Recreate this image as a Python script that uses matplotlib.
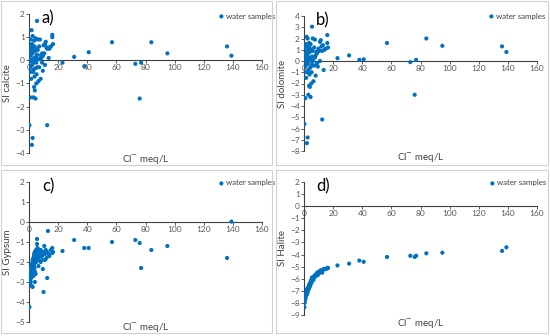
import matplotlib
matplotlib.use("Agg")
import matplotlib.pyplot as plt
from matplotlib.patches import Rectangle

# ── Data: Cl- (meq/L) and saturation indices per sample ─────
cl = [0.3, 0.5, 0.8, 1.0, 1.2, 1.5, 1.5, 1.8, 2.0, 2.0, 2.2, 2.5, 2.5, 2.5, 2.8,
      3.0, 3.0, 3.2, 3.5, 3.5, 3.5, 3.8, 4.0, 4.0, 4.2, 4.5, 4.5, 4.8, 5.0, 5.0,
      5.2, 5.5, 5.5, 5.8, 6.0, 6.2, 6.5, 7.0, 7.0, 7.5, 8.0, 8.0, 8.5, 9.0, 9.0,
      9.5, 9.5, 10.0, 10.5, 11.0, 11.0, 11.5, 12.0, 12.5, 12.5, 13.0, 13.5, 14.0,
      15.0, 16.0, 16.0, 16.5,
      0.5, 0.8, 1.0, 1.2, 1.8, 2.0, 2.8, 3.0, 3.8, 4.2, 5.0, 6.0, 7.5,
      23, 31, 38, 41, 57, 73, 76, 77, 84, 95, 136, 139]

si_calcite = [-2.8, 0.6, -0.3, -1.6, 0.2, 0.0, -0.8, 1.3, -3.65, 0.5, -0.2, -3.35, 1.05, 0.3, -0.5,
              -1.6, 0.6, -0.1, -1.15, 0.85, 0.1, -0.7, -1.3, 0.4, -0.35, -1.65, 0.95, 0.15, -1.0, 0.5,
              -0.6, 1.7, 0.25, -0.3, 0.9, 0.05, -0.9, 0.6, -0.3, 0.9, -0.8, 0.2, 0.1, -0.1, 0.3,
              -0.45, 0.2, 0.65, 0.3, 0.7, -0.2, 0.8, 0.55, -2.8, 0.5, 0.55, 0.1, 0.5,
              0.6, 1.1, 1.0, 0.7,
              0.05, 0.35, -0.5, 0.9, -0.05, 0.7, 0.4, -0.4, 0.6, 0.0, -0.1, 0.45, 0.05,
              -0.1, 0.15, -0.25, 0.35, 0.78, -0.15, -1.65, -0.1, 0.78, 0.3, 0.6, 0.2]

si_dolomite = [-5.6, 1.2, -0.5, -3.3, 0.4, 0.1, -1.5, 2.15, -7.3, 0.9, -0.3, -6.8, 2.0, 0.6, -1.0,
               -3.0, 1.1, 0.0, -2.2, 1.6, 0.3, -1.2, -2.3, 0.8, -0.6, -3.2, 1.5, 0.2, -2.0, 1.0,
               -1.0, 3.05, 0.4, -0.4, 2.0, 0.0, -1.8, 1.2, -0.4, 1.9, -1.3, 0.5, 0.8, -0.2, 0.7,
               -0.5, 0.9, 1.1, 0.9, 1.7, 0.0, 1.85, 1.3, -5.2, 0.9, 1.4, -0.8, 1.0,
               1.1, 2.3, 1.6, 1.2,
               0.1, 0.6, -1.0, 1.5, -0.2, 1.3, 0.8, -0.8, 1.2, 0.1, -0.3, 0.9, 0.3,
               0.25, 0.5, 0.1, 0.15, 1.6, -0.1, -3.0, 0.1, 2.0, 1.35, 1.3, 0.8]

si_gypsum = [-4.25, -3.1, -2.9, -3.0, -2.7, -2.5, -2.8, -2.2, -3.2, -2.1, -2.4, -3.25, -2.0, -1.9, -2.6,
             -2.7, -1.8, -2.2, -2.1, -1.7, -1.6, -2.3, -3.0, -1.5, -2.5, -2.6, -1.9, -1.4, -2.0, -1.6,
             -1.7, -0.85, -1.1, -1.3, -1.35, -1.8, -2.2, -1.6, -1.9, -1.5, -1.4, -2.0, -1.6, -1.7, -1.9,
             -2.35, -1.5, -3.5, -1.2, -1.9, -1.6, -1.4, -1.8, -2.8, -1.5, -0.45, -1.6, -1.7,
             -1.4, -1.3, -1.55, -1.5,
             -2.6, -2.3, -3.0, -2.4, -2.5, -2.2, -2.0, -2.4, -1.9, -1.8, -1.7, -1.5, -1.7,
             -1.45, -0.9, -1.3, -1.3, -1.0, -0.9, -1.05, -2.3, -1.4, -1.2, -1.8, 0.02]

si_halite = [-8.35, -8.0, -7.7, -7.5, -7.4, -7.2, -7.3, -7.0, -7.3, -6.9, -7.0, -7.1, -6.8, -6.8, -6.9,
             -6.9, -6.7, -6.8, -6.6, -6.5, -6.6, -6.7, -6.6, -6.4, -6.5, -6.5, -6.3, -6.2, -6.3, -6.2,
             -6.3, -5.9, -6.0, -6.1, -5.9, -6.0, -6.1, -5.8, -5.9, -5.7, -5.8, -5.7, -5.6, -5.6, -5.5,
             -5.7, -5.5, -5.5, -5.4, -5.4, -5.5, -5.3, -5.4, -5.5, -5.3, -5.3, -5.2, -5.2,
             -5.2, -5.1, -5.15, -5.1,
             -7.8, -7.6, -7.6, -7.3, -7.1, -7.0, -6.9, -6.8, -6.6, -6.4, -6.1, -5.9, -5.8,
             -4.9, -4.75, -4.5, -4.6, -4.2, -4.1, -4.2, -4.1, -3.9, -3.85, -3.7, -3.4]

x_ticks = [0, 20, 40, 60, 80, 100, 120, 140, 160]

BLUE = "#0070C0"
AXIS = "#595959"
W, H = 550, 336

# (series, ylabel, panel tag, ylim, plot box px [x0, x1, ytop, ybot], frame px, xlabel y px, legend px)
panels = [
    (si_calcite,  "SI calcite",  "a)", (-4, 2), (29, 262, 14, 153),  (1, 1, 272, 165),   160, (219, 16)),
    (si_dolomite, "SI dolomite", "b)", (-8, 4), (304, 537, 16, 151), (276, 1, 548, 165), 158, (489, 16)),
    (si_gypsum,   "SI Gypsum",   "c)", (-5, 2), (29, 262, 182, 322), (1, 170, 272, 333), 328, (219, 183)),
    (si_halite,   "SI Halite",   "d)", (-9, 2), (304, 537, 182, 315), (276, 170, 548, 333), 323, (490, 183)),
]

plt.rcParams["font.family"] = ["Lato", "DejaVu Sans"]

fig = plt.figure(figsize=(W / 100, H / 100), dpi=100, facecolor="white")

for si, ylab, tag, ylim, box, frame, xlab_y, leg in panels:
    # light grey frame round each panel
    fx0, fy0, fx1, fy1 = frame
    fig.patches.append(Rectangle((fx0 / W, 1 - fy1 / H), (fx1 - fx0) / W, (fy1 - fy0) / H,
                                 transform=fig.transFigure, fill=False,
                                 edgecolor="#d0d0d0", lw=0.8))

    x0, x1, yt, yb = box
    ax = fig.add_axes([x0 / W, 1 - yb / H, (x1 - x0) / W, (yb - yt) / H])
    ax.set_facecolor("none")
    ax.scatter(cl, si, s=9, color=BLUE, edgecolors="none", label="water samples", zorder=3)

    ax.set_xlim(0, 160)
    ax.set_ylim(*ylim)
    ax.set_xticks(x_ticks)
    ax.set_yticks(range(ylim[0], ylim[1] + 1))

    for side in ("top", "right"):
        ax.spines[side].set_visible(False)
    ax.spines["bottom"].set_position(("data", 0))
    for side in ("left", "bottom"):
        ax.spines[side].set_color("#404040")
        ax.spines[side].set_linewidth(0.8)
    ax.tick_params(axis="both", labelsize=6, length=2, width=0.6, pad=1,
                   colors="#404040", labelcolor=AXIS)

    ax.set_ylabel(ylab, fontsize=7, color="#404040", labelpad=2)
    fig.text((x0 + x1) / 2 / W, 1 - xlab_y / H, "Cl$^{-}$ meq/L", fontsize=7,
             color="#404040", ha="center", va="center")
    fig.text((x0 + 19) / W, 1 - (yt + 4) / H, tag, fontsize=12, color="black",
             ha="center", va="center")

    ax.legend(loc="center left", bbox_to_anchor=(leg[0] / W, 1 - leg[1] / H),
              bbox_transform=fig.transFigure, frameon=False, fontsize=5.7,
              handlelength=0.6, handletextpad=0.3, borderpad=0, borderaxespad=0,
              labelcolor="#404040")

fig.savefig("out.png", dpi=100, facecolor="white")
